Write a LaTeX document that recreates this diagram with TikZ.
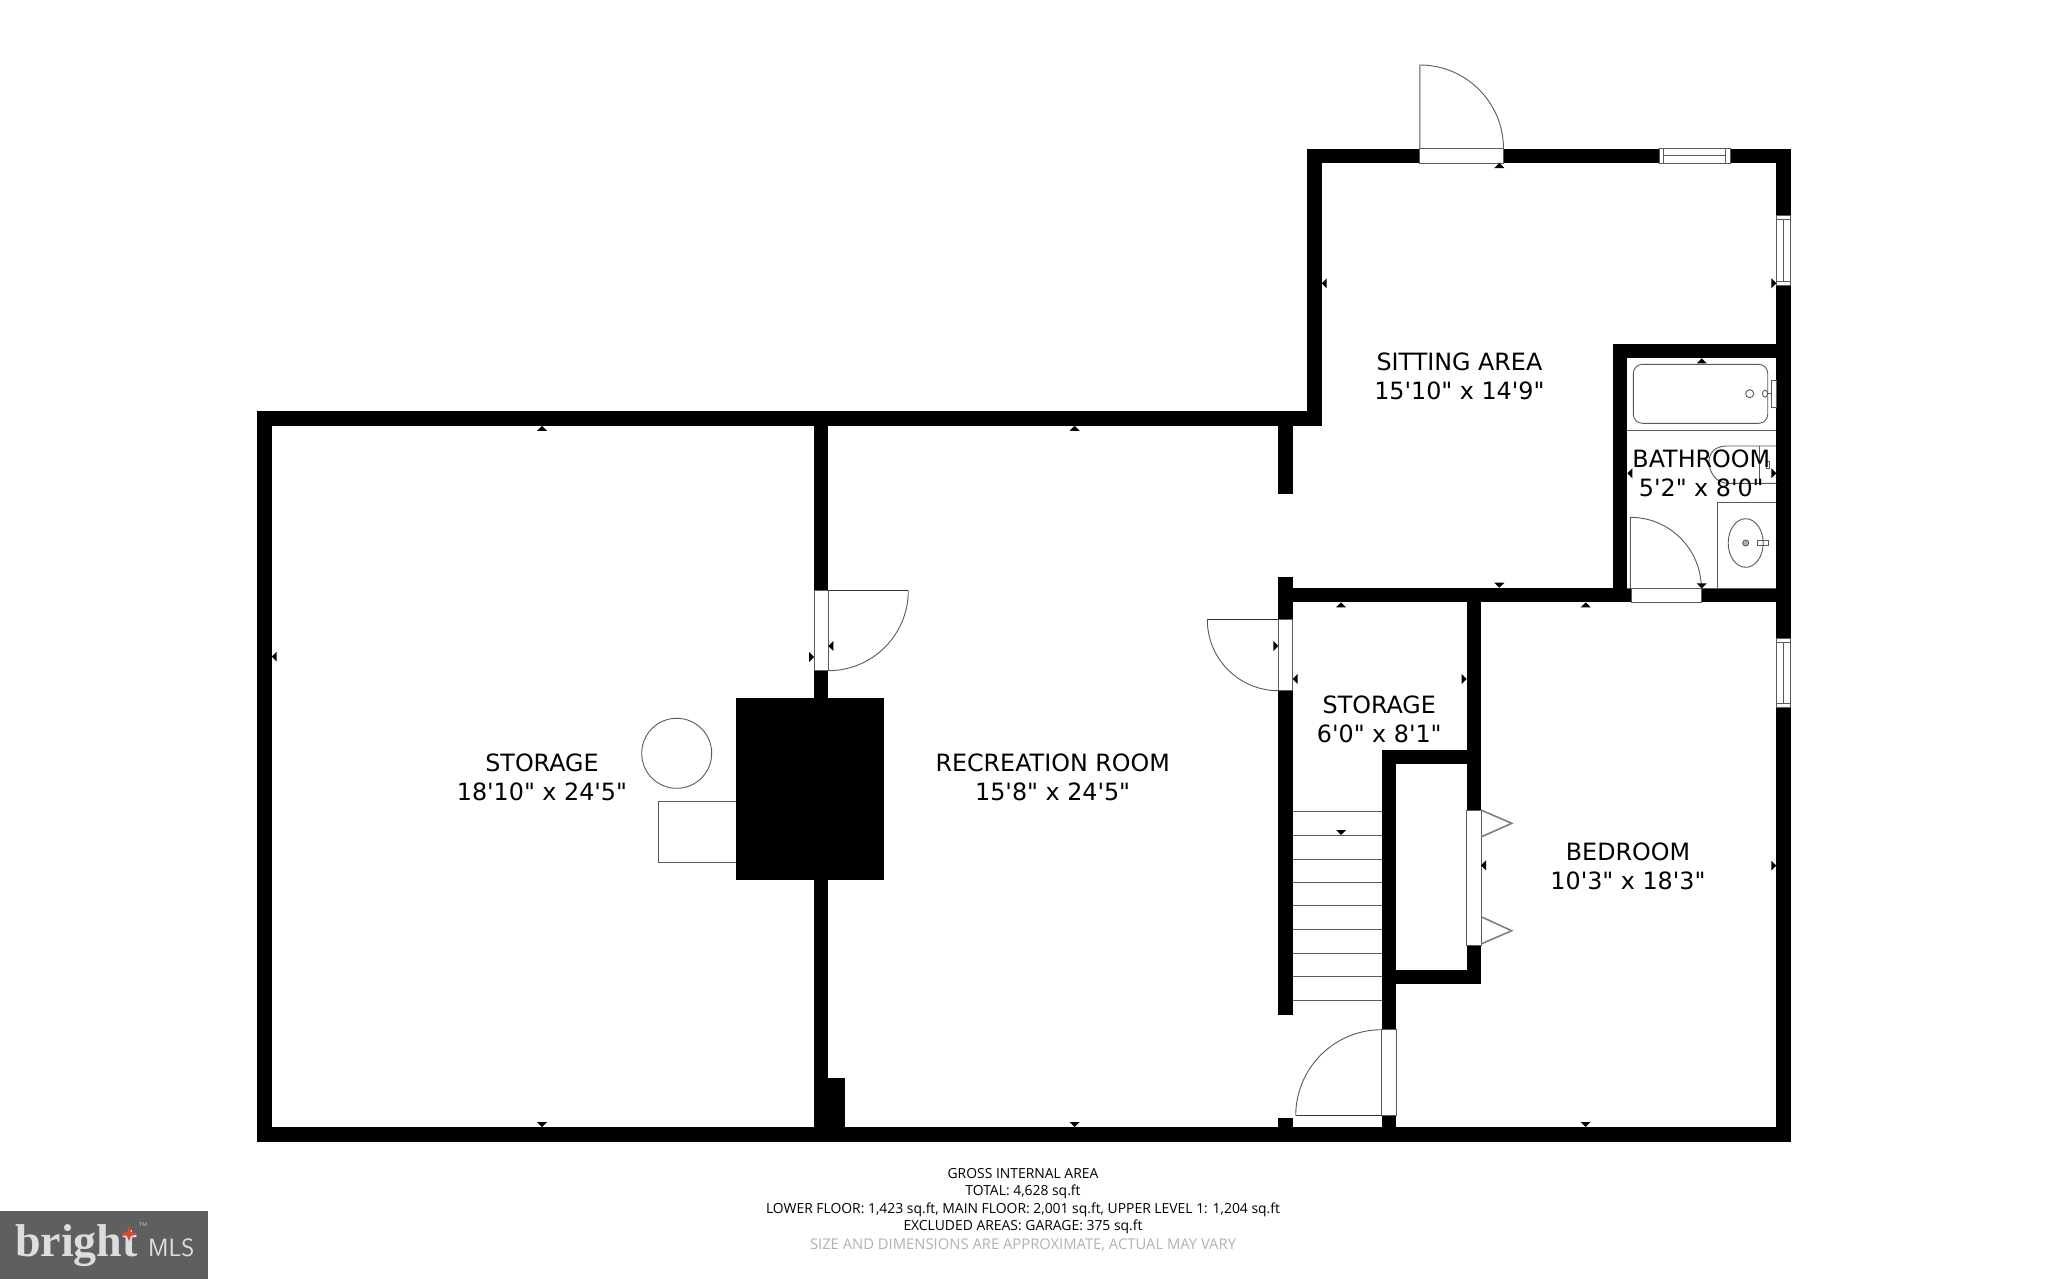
\documentclass[tikz,border=0pt]{standalone}
\usepackage{fontspec}
\setmainfont[Ligatures=TeXOff]{DejaVu Sans}
\newfontfamily\notefont[Ligatures=TeXOff]{Open Sans}
\newfontfamily\logofont{Liberation Serif}
\definecolor{edgegray}{HTML}{5A5A5A}
\definecolor{logogray}{HTML}{5F5F5F}
\definecolor{logotext}{HTML}{DDDDDD}
\definecolor{logored}{HTML}{D9492E}
\tikzset{
    wall/.style = {fill=black},
    gap/.style = {fill=white, draw=edgegray, line width=0.9pt},
    fixture/.style = {draw=edgegray, line width=0.9pt},
    leaf/.style = {draw=black!80, line width=1pt},
    fold/.style = {draw=gray, line width=1.6pt},
    roomlabel/.style = {font=\fontsize{23.8}{29}\selectfont, align=center, inner sep=0pt},
    noteline/.style = {font=\notefont\fontsize{13.9}{16}\selectfont, inner sep=0pt}
}
\newcommand{\tickup}[1]{\fill (#1) -- ++(-5,5) -- ++(10,0) -- cycle;}
\newcommand{\tickdown}[1]{\fill (#1) -- ++(-5,-5) -- ++(10,0) -- cycle;}
\newcommand{\tickleft}[1]{\fill (#1) -- ++(5,-5) -- ++(0,10) -- cycle;}
\newcommand{\tickright}[1]{\fill (#1) -- ++(-5,-5) -- ++(0,10) -- cycle;}
\begin{document}
\begin{tikzpicture}[x=1pt, y=-1pt]
    \useasboundingbox (0,0) rectangle (2048,1279);
    \fill[white] (0,0) rectangle (2048,1279);

    %outer walls
    \fill[wall] (257.3,411.4) rectangle (1321.7,425.8);
    \fill[wall] (257.3,411.4) rectangle (271.7,1141.5);
    \fill[wall] (257.3,1127) rectangle (1790.8,1141.5);
    \fill[wall] (1776.3,148.7) rectangle (1790.8,1141.5);
    \fill[wall] (1307.3,148.7) rectangle (1321.7,425.8);
    \fill[wall] (1307.3,148.7) rectangle (1790.8,163);

    %inner walls
    \fill[wall] (814,411.4) rectangle (828.3,1141.5);
    \fill[wall] (828.3,1078) rectangle (845.3,1127);
    \fill[wall] (736,698.3) rectangle (883.7,880);
    \fill[wall] (1278,411.4) rectangle (1292.7,493.7);
    \fill[wall] (1278,577.3) rectangle (1292.7,1015);
    \fill[wall] (1278,1117.7) rectangle (1292.7,1127);
    \fill[wall] (1292,588) rectangle (1776.3,602.3);
    \fill[wall] (1612.7,344) rectangle (1627.3,602.3);
    \fill[wall] (1612.7,344) rectangle (1776.3,358.3);
    \fill[wall] (1466.7,602) rectangle (1481,984.3);
    \fill[wall] (1382,750) rectangle (1481,764.3);
    \fill[wall] (1381.7,750) rectangle (1396,1127);
    \fill[wall] (1382,970) rectangle (1481,984.3);

    %openings
    \filldraw[gap] (1419.8,148.7) rectangle (1503.5,163);
    \filldraw[gap] (1659,148.7) rectangle (1730,163);
    \filldraw[gap] (1776.3,215) rectangle (1790.8,285);
    \filldraw[gap] (1776.3,638) rectangle (1790.8,707);
    \filldraw[gap] (1631,588.3) rectangle (1701.7,602.3);
    \filldraw[gap] (814,590.7) rectangle (828.3,670.3);
    \filldraw[gap] (1278.3,619.7) rectangle (1292.7,690);
    \filldraw[gap] (1466.7,810) rectangle (1481,945);
    \filldraw[gap] (1381.7,1029.3) rectangle (1396,1115.7);

    %window frames
    \draw[fixture] (1663.3,148.7) -- (1663.3,163);
    \draw[fixture] (1725,148.7) -- (1725,163);
    \draw[fixture] (1663.3,155.5) -- (1725,155.5);
    \draw[fixture] (1776.3,219) -- (1790.8,219);
    \draw[fixture] (1776.3,281) -- (1790.8,281);
    \draw[fixture] (1783.8,219) -- (1783.8,281);
    \draw[fixture] (1776.3,642) -- (1790.8,642);
    \draw[fixture] (1776.3,703) -- (1790.8,703);
    \draw[fixture] (1783.8,642) -- (1783.8,703);

    %doors
    \draw[fixture] (1419.8,148.7) -- (1419.8,65) arc[start angle=-90, end angle=0, radius=83.7];
    \draw[fixture] (1630.3,588.3) -- (1630.3,517.3) arc[start angle=-90, end angle=0, radius=71];
    \draw[leaf] (828.3,590.7) -- (908.3,590.7);
    \draw[fixture] (908.3,590.7) arc[start angle=0, end angle=90, radius=80];
    \draw[leaf] (1278.3,619.7) -- (1207.3,619.7);
    \draw[fixture] (1207.3,619.7) arc[start angle=180, end angle=90, radius=71];
    \draw[leaf] (1381.7,1115.7) -- (1295.7,1115.7);
    \draw[fixture] (1295.7,1115.7) arc[start angle=180, end angle=270, radius=86];
    \draw[fold] (1481,810) -- (1511.7,823.3) -- (1481,837);
    \draw[fold] (1481,916.7) -- (1511.7,930.7) -- (1481,944);

    %stairs
    \draw[fixture] (1292.7,811.7) -- (1381.7,811.7);
    \draw[fixture] (1292.7,835) -- (1381.7,835);
    \draw[fixture] (1292.7,859) -- (1381.7,859);
    \draw[fixture] (1292.7,882.3) -- (1381.7,882.3);
    \draw[fixture] (1292.7,905.7) -- (1381.7,905.7);
    \draw[fixture] (1292.7,929.7) -- (1381.7,929.7);
    \draw[fixture] (1292.7,953) -- (1381.7,953);
    \draw[fixture] (1292.7,976.3) -- (1381.7,976.3);
    \draw[fixture] (1292.7,1000.3) -- (1381.7,1000.3);

    %storage fixtures
    \draw[fixture] (676.7,753.3) circle (35);
    \draw[fixture] (736,801.3) -- (658.3,801.3) -- (658.3,862.7) -- (736,862.7);

    %bathroom fixtures
    \draw[fixture] (1627.3,430.3) -- (1776.3,430.3);
    \draw[fixture, rounded corners=9pt] (1633.3,364.3) rectangle (1767.7,423.3);
    \draw[fixture] (1749.7,393.7) circle (4);
    \draw[fixture] (1765,393.7) ellipse (2.5 and 3.5);
    \draw[fixture] (1767.5,393) -- (1771.3,393);
    \draw[fixture] (1771.3,380) rectangle (1776.3,407.7);
    \draw[fixture] (1776.3,446) -- (1726.7,446) .. controls (1715,446) and (1709,453) .. (1709,461.7) .. controls (1709,472) and (1716,483.3) .. (1728,483.3) -- (1776.3,483.3);
    \draw[fixture] (1759.7,446) -- (1759.7,483.3);
    \draw[fixture] (1766,461.7) rectangle (1769.7,468);
    \draw[fixture] (1717.7,588.3) -- (1717.7,502.7) -- (1776.3,502.7);
    \draw[fixture] (1627.3,588.3) -- (1776.3,588.3);
    \draw[fixture] (1745.7,543) ellipse (17.5 and 24.3);
    \filldraw[fixture, fill=gray!60] (1745.7,543) circle (3);
    \draw[fixture] (1757.3,540.7) rectangle (1768.3,545.7);

    %dimension ticks
    \tickup{542,425.8}
    \tickup{1074.6,425.8}
    \tickup{1499.4,163}
    \tickup{1701.7,358.3}
    \tickup{1341,602.3}
    \tickup{1585.7,602.3}
    \tickdown{542,1127}
    \tickdown{1074.6,1127}
    \tickdown{1585.7,1127}
    \tickdown{1701.7,588.3}
    \tickdown{1499.3,587.7}
    \tickdown{1341,835}
    \tickleft{271.7,656.6}
    \tickleft{1321.7,283.3}
    \tickleft{1627.3,473.3}
    \tickleft{828.3,646}
    \tickleft{1292.7,679}
    \tickleft{1481,865.3}
    \tickright{1776.3,283.3}
    \tickright{1776.3,473.3}
    \tickright{1776.3,865.6}
    \tickright{814,657}
    \tickright{1278.3,646}
    \tickright{1466.7,679}

    %room labels
    \node[roomlabel] (sitting) at (1459.4,376) {SITTING AREA\\15'10" x 14'9"};
    \node[roomlabel] (bathroom) at (1701.3,473) {BATHROOM\\5'2" x 8'0"};
    \node[roomlabel] (closet) at (1379.3,719) {STORAGE\\6'0" x 8'1"};
    \node[roomlabel] (storage) at (542,777.5) {STORAGE\\18'10" x 24'5"};
    \node[roomlabel] (recreation) at (1052.7,777.5) {RECREATION ROOM\\15'8" x 24'5"};
    \node[roomlabel] (bedroom) at (1628,866) {BEDROOM\\10'3" x 18'3"};

    %area note
    \node[noteline] (notea) at (1023,1173.5) {GROSS INTERNAL AREA};
    \node[noteline] (noteb) at (1023,1191.5) {TOTAL: 4,628 sq.ft};
    \node[noteline] (notec) at (1023,1209.5) {LOWER FLOOR: 1,423 sq.ft, MAIN FLOOR: 2,001 sq.ft, UPPER LEVEL 1: 1,204 sq.ft};
    \node[noteline] (noted) at (1023,1227) {EXCLUDED AREAS: GARAGE: 375 sq.ft};
    \node[noteline, text=gray!60, font=\notefont\fontsize{14.8}{16}\selectfont] (notee) at (1023,1245) {SIZE AND DIMENSIONS ARE APPROXIMATE, ACTUAL MAY VARY};

    %logo
    \fill[logogray] (0,1211) rectangle (208,1279);
    \node[anchor=base west, inner sep=0pt, text=logotext, font=\logofont\bfseries\fontsize{46}{46}\selectfont] (logoword) at (15,1256) {bright};
    \node[anchor=base west, inner sep=0pt, text=logotext, font=\sffamily\fontsize{25}{25}\selectfont] (logomls) at (148,1256) {MLS};
    \node[anchor=center, inner sep=0pt, text=logotext, font=\sffamily\fontsize{5}{5}\selectfont] (logotm) at (143,1225) {TM};
    \fill[logored] (129,1226) -- (131,1232) -- (138,1234) -- (131,1236) -- (129,1241) -- (127,1236) -- (120,1234) -- (127,1232) -- cycle;
\end{tikzpicture}
\end{document}
